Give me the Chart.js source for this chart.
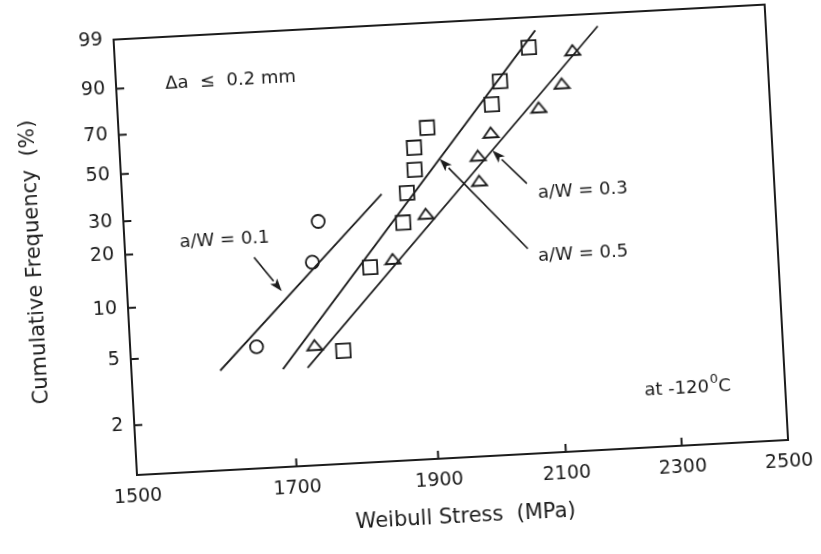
<!DOCTYPE html>
<html>
<head>
<meta charset="utf-8">
<script src="https://cdn.jsdelivr.net/npm/chart.js@4.4.1/dist/chart.umd.min.js"></script>
<style>
  html, body { margin: 0; padding: 0; background: #fff; overflow: hidden; }
  /* the scanned page is slightly rotated */
  #chartWeibull { display: block; transform: rotate(-3.08deg); transform-origin: 137px 475px; }
</style>
</head>
<body>
<canvas id="chartWeibull" width="821" height="554"></canvas>
<script>
// a/W = 0.1 (circles)
const stress01 = [1656, 1736, 1747];
const freq01 = [5.4, 16, 26.5];
// a/W = 0.5 (squares)
const stress05 = [1772, 1816, 1867, 1875, 1888, 1889, 1910, 2011, 2026, 2075];
const freq05 = [4.8, 14.4, 24.7, 34.9, 44.6, 55.3, 65.2, 75.2, 85.3, 95.1];
// a/W = 0.3 (triangles)
const stress03 = [1733, 1849, 1901, 1985, 1985, 2007, 2086, 2126, 2147];
const freq03 = [5.3, 15.8, 27.1, 38.3, 49.7, 61, 72.5, 83.1, 94];

// fitted lines (end points)
const fitStress01 = [1608, 1838];
const fitFreq01 = [4.0, 35];
const fitStress05 = [1689, 2087];
const fitFreq05 = [3.9, 97.8];
const fitStress03 = [1722, 2192];
const fitFreq03 = [3.9, 97.9];

const stressTicks = [1500, 1700, 1900, 2100, 2300, 2500];
const freqTicks = [2, 5, 10, 20, 30, 50, 70, 90, 99];

// weibull probability scale
const weib = p => Math.log(-Math.log(1 - p / 100));
const toPoints = (xs, ps) => xs.map((x, i) => ({ x: x, y: weib(ps[i]) }));

const ink = '#1c1c1c';
const fontFamily = '"DejaVu Sans", sans-serif';

const notes = [
  { text: 'Δa  ≤  0.2 mm', x: 1559, y: 90.6 },
  { text: 'a/W = 0.1', x: 1566, y: 22.4 },
  { text: 'a/W = 0.3', x: 2077, y: 32 },
  { text: 'a/W = 0.5', x: 2072, y: 14.7 }
];
const arrows = [
  { from: [1659, 17.7], to: [1693, 11.2] },
  { from: [2060, 36.1], to: [2008, 51.8] },
  { from: [2056, 16.4], to: [1926, 49.2] }
];

// flat open triangle marker like the original
const flatTriangle = (() => {
  const c = document.createElement('canvas');
  c.width = 19; c.height = 14;
  const g = c.getContext('2d');
  g.strokeStyle = ink;
  g.lineWidth = 1.9;
  g.lineJoin = 'miter';
  g.beginPath();
  g.moveTo(9.5, 2);
  g.lineTo(17, 12);
  g.lineTo(2, 12);
  g.closePath();
  g.stroke();
  return c;
})();

const framePlugin = {
  id: 'frame',
  afterDatasetsDraw(chart) {
    const { ctx, chartArea: a, scales: { x, y } } = chart;
    ctx.save();
    ctx.strokeStyle = ink;
    ctx.fillStyle = ink;
    ctx.lineWidth = 2;
    ctx.strokeRect(a.left, a.top, a.right - a.left, a.bottom - a.top);

    // inward tick marks
    ctx.beginPath();
    stressTicks.slice(1, -1).forEach(v => {
      const px = x.getPixelForValue(v);
      ctx.moveTo(px, a.bottom);
      ctx.lineTo(px, a.bottom - 8);
    });
    freqTicks.slice(0, -1).forEach(p => {
      const py = y.getPixelForValue(weib(p));
      ctx.moveTo(a.left, py);
      ctx.lineTo(a.left + 8, py);
    });
    ctx.stroke();

    // labels
    ctx.font = '18px ' + fontFamily;
    ctx.textBaseline = 'middle';
    ctx.textAlign = 'left';
    notes.forEach(n => {
      ctx.fillText(n.text, x.getPixelForValue(n.x), y.getPixelForValue(weib(n.y)));
    });

    // at -120 0C with raised 0
    let tx = x.getPixelForValue(2239);
    const ty = y.getPixelForValue(weib(2.2));
    ctx.fillText('at -120', tx, ty);
    tx += ctx.measureText('at -120').width + 1;
    ctx.font = '13px ' + fontFamily;
    ctx.fillText('0', tx, ty - 8);
    tx += ctx.measureText('0').width;
    ctx.font = '18px ' + fontFamily;
    ctx.fillText('C', tx, ty);

    // arrows
    ctx.lineWidth = 1.6;
    arrows.forEach(ar => {
      const x1 = x.getPixelForValue(ar.from[0]), y1 = y.getPixelForValue(weib(ar.from[1]));
      const x2 = x.getPixelForValue(ar.to[0]), y2 = y.getPixelForValue(weib(ar.to[1]));
      const ang = Math.atan2(y2 - y1, x2 - x1);
      const len = 13, half = 4.5;
      const bx = x2 - len * Math.cos(ang), by = y2 - len * Math.sin(ang);
      ctx.beginPath();
      ctx.moveTo(x1, y1);
      ctx.lineTo(bx, by);
      ctx.stroke();
      ctx.beginPath();
      ctx.moveTo(x2, y2);
      ctx.lineTo(bx + half * Math.sin(ang), by - half * Math.cos(ang));
      ctx.lineTo(bx + 3 * Math.cos(ang), by + 3 * Math.sin(ang));
      ctx.lineTo(bx - half * Math.sin(ang), by + half * Math.cos(ang));
      ctx.closePath();
      ctx.fill();
    });
    ctx.restore();
  }
};

const fitLine = (xs, ps) => ({
  data: toPoints(xs, ps),
  showLine: true,
  borderColor: ink,
  borderWidth: 1.8,
  pointRadius: 0
});
const marks = (xs, ps, style, r) => ({
  data: toPoints(xs, ps),
  showLine: false,
  pointStyle: style,
  pointRadius: r,
  pointBorderWidth: 1.8,
  pointBorderColor: ink,
  pointBackgroundColor: 'rgba(255,255,255,0)'
});

const context = document.getElementById('chartWeibull').getContext('2d');
const chart = new Chart(context, {
  type: 'scatter',
  data: {
    datasets: [
      fitLine(fitStress01, fitFreq01),
      fitLine(fitStress05, fitFreq05),
      fitLine(fitStress03, fitFreq03),
      marks(stress01, freq01, 'circle', 6.5),
      marks(stress05, freq05, 'rect', 10),
      marks(stress03, freq03, flatTriangle, 8)
    ]
  },
  options: {
    responsive: false,
    animation: false,
    layout: { padding: { top: 39, right: 32, left: 0, bottom: 0 } },
    plugins: { legend: { display: false }, tooltip: { enabled: false } },
    scales: {
      x: {
        type: 'logarithmic',
        min: 1500,
        max: 2500,
        afterBuildTicks: s => { s.ticks = stressTicks.map(v => ({ value: v })); },
        afterFit: s => { s.height = 79; s.paddingLeft = 0; s.paddingRight = 0; },
        grid: { display: false, drawTicks: false },
        border: { display: false },
        ticks: {
          padding: 11, color: ink, autoSkip: false, maxRotation: 0,
          font: { family: fontFamily, size: 19 },
          callback: v => String(v)
        },
        title: {
          display: true, text: 'Weibull Stress  (MPa)', color: ink,
          font: { family: fontFamily, size: 21 },
          padding: { top: 0, bottom: 7 }
        }
      },
      y: {
        type: 'linear',
        min: weib(1),
        max: weib(99),
        afterBuildTicks: s => { s.ticks = freqTicks.map(p => ({ value: weib(p) })); },
        afterFit: s => { s.width = 137; s.paddingTop = 0; s.paddingBottom = 0; },
        grid: { display: false, drawTicks: false },
        border: { display: false },
        ticks: {
          padding: 11, color: ink, autoSkip: false,
          font: { family: fontFamily, size: 19 },
          callback: (v, i) => String(freqTicks[i])
        },
        title: {
          display: true, text: 'Cumulative Frequency  (%)', color: ink,
          font: { family: fontFamily, size: 21 },
          padding: { top: 34, bottom: 0 }
        }
      }
    }
  },
  plugins: [framePlugin]
});
</script>
</body>
</html>
